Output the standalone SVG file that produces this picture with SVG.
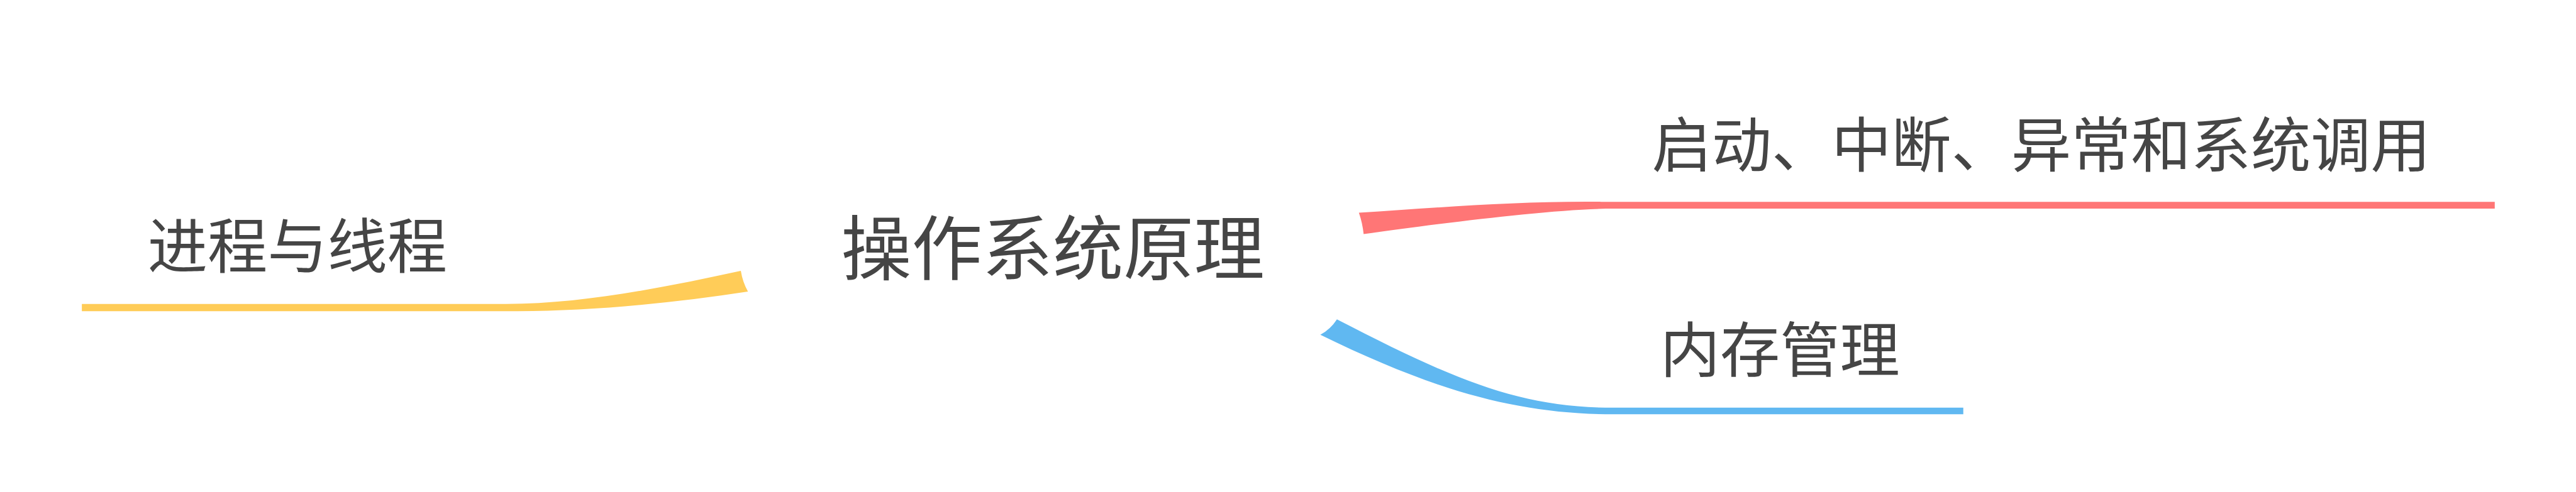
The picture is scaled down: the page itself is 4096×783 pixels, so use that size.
<svg xmlns="http://www.w3.org/2000/svg" width="4096" height="783" viewBox="0 0 4096 783">
<style>
.t{font-family:"Noto Sans CJK SC","Noto Sans",sans-serif;fill:#454545;}
.b{font-size:101px;}
.r{font-size:119px;}
</style>
<rect width="4096" height="783" fill="#ffffff"/>
<g transform="scale(0.94313)">
<g id="connectors">
<path id="c-yellow" fill="#FFCC58" d="M 1249 457 Q 1252 476 1261 492 C 1130 512 990 526 860 525 L 138 525 L 138 513 L 853 513 C 980 513 1120 485 1249 457 Z"/>
<path id="c-red" fill="#FF7676" d="M 2291 359 C 2430 350 2560 339 2700 340.5 L 4206 340.5 L 4206 352 L 2720 352 C 2620 352 2420 378 2299 395 Q 2297 376 2291 359 Z"/>
<path id="c-blue" fill="#60B8F1" d="M 2254 539 C 2450 640 2560 688 2720 688 L 3310 688 L 3310 699 L 2720 699 C 2560 699 2420 660 2226 565 Q 2243 556 2254 539 Z"/>
</g>
<g id="root"><text class="t r" x="1418" y="463">操作系统原理</text></g>
<g id="n-process"><text class="t b" x="249" y="453">进程与线程</text></g>
<g id="n-boot"><text class="t b" x="2785" y="282">启动、中断、异常和系统调用</text></g>
<g id="n-memory"><text class="t b" x="2799" y="628">内存管理</text></g>
</g>
</svg>
